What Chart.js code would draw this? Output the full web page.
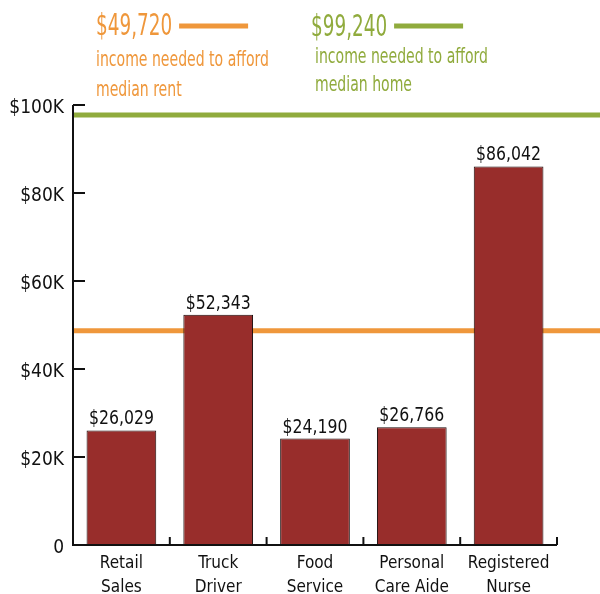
<!DOCTYPE html>
<html><head><meta charset="utf-8">
<script src="https://cdn.jsdelivr.net/npm/chart.js@4.4.1/dist/chart.umd.min.js"></script>
<style>html,body{margin:0;padding:0;background:#fff}#wrap{width:600px;height:594px;position:relative}</style>
</head><body><div id="wrap"><canvas id="c" width="600" height="594"></canvas></div>
<script>
const categories = [["Retail","Sales"],["Truck","Driver"],["Food","Service"],["Personal","Care Aide"],["Registered","Nurse"]];
const wages = [26029, 52343, 24190, 26766, 86042];
const yTicks = [0, 20000, 40000, 60000, 80000, 100000];
const thresholdNames = [["income needed to afford", "median rent"], ["income needed to afford", "median home"]];
const thresholdLabels = ["$49,720", "$99,240"];
const thresholdLevels = [48700, 97700];

const FONT = "'DejaVu Sans Condensed', 'DejaVu Sans', sans-serif";
const BAR = '#982d2b', ORANGE = '#ef973b', GREEN = '#90ab3d';

const fmt = v => '$' + v.toLocaleString('en-US');

function narrowText(ctx, txt, x, y, sx) {
  ctx.save(); ctx.translate(x, y); ctx.scale(sx, 1); ctx.fillText(txt, 0, 0); ctx.restore();
  return ctx.measureText(txt).width * sx;
}

const overlay = {
  id: 'overlay',
  beforeDatasetsDraw(chart) {
    const ctx = chart.ctx, y = chart.scales.y, a = chart.chartArea;
    ctx.save();
    [ORANGE, GREEN].forEach((col, i) => {
      const py = y.getPixelForValue(thresholdLevels[i]);
      ctx.strokeStyle = col; ctx.lineWidth = 5;
      ctx.beginPath(); ctx.moveTo(a.left, py); ctx.lineTo(chart.width, py); ctx.stroke();
    });
    ctx.restore();
  },
  afterDatasetsDraw(chart) {
    const ctx = chart.ctx, y = chart.scales.y, a = chart.chartArea;
    ctx.save();
    ctx.strokeStyle = '#111'; ctx.lineWidth = 2;
    ctx.beginPath(); ctx.moveTo(a.left, a.top); ctx.lineTo(a.left, a.bottom); ctx.lineTo(a.right, a.bottom); ctx.stroke();
    yTicks.forEach(v => {
      const py = y.getPixelForValue(v);
      ctx.beginPath(); ctx.moveTo(a.left, py); ctx.lineTo(a.left + 12, py); ctx.stroke();
    });
    const n = categories.length, step = (a.right - a.left) / n;
    for (let i = 1; i <= n; i++) {
      const px = a.left + step * i;
      ctx.beginPath(); ctx.moveTo(px, a.bottom); ctx.lineTo(px, a.bottom - 8); ctx.stroke();
    }
    const meta = chart.getDatasetMeta(0);
    ctx.fillStyle = '#111'; ctx.font = '19px ' + FONT; ctx.textAlign = 'left'; ctx.textBaseline = 'alphabetic';
    meta.data.forEach((bar, i) => {
      const t = fmt(wages[i]); const sx = 0.92;
      const w = ctx.measureText(t).width * sx;
      narrowText(ctx, t, bar.x - w / 2, bar.y - 6, sx);
    });
    const cols = [ORANGE, GREEN];
    const lx = [96, 311], numBase = [35, 36], l1Base = [66, 63], l2Base = [96, 91], txo = [0, 4];
    cols.forEach((col, i) => {
      ctx.fillStyle = col; ctx.textAlign = 'left';
      ctx.font = '31px ' + FONT;
      const w = narrowText(ctx, thresholdLabels[i], lx[i], numBase[i], 0.66);
      ctx.strokeStyle = col; ctx.lineWidth = 5;
      ctx.beginPath(); ctx.moveTo(lx[i] + w + 7, 26); ctx.lineTo(lx[i] + w + 76, 26); ctx.stroke();
      ctx.font = '22px ' + FONT;
      narrowText(ctx, thresholdNames[i][0], lx[i] + txo[i], l1Base[i], 0.71);
      narrowText(ctx, thresholdNames[i][1], lx[i] + txo[i], l2Base[i], 0.71);
    });
    ctx.restore();
  }
};

new Chart(document.getElementById('c'), {
  type: 'bar',
  data: {
    labels: categories,
    datasets: [{ data: wages, backgroundColor: BAR, borderColor: '#1a0a0a', borderWidth: 1,
      categoryPercentage: 1, barPercentage: 0.72 }]
  },
  options: {
    responsive: false, animation: false,
    layout: { padding: { top: 105, right: 43, left: 0, bottom: 0 } },
    plugins: { legend: { display: false }, tooltip: { enabled: false } },
    scales: {
      x: {
        grid: { display: false, drawTicks: false }, border: { display: false },
        ticks: { color: '#111', font: { family: FONT, size: 17, lineHeight: 1.4 }, padding: 7, maxRotation: 0, autoSkip: false },
        afterFit: s => { s.height = 49; }
      },
      y: {
        min: 0, max: 100000,
        afterBuildTicks: s => { s.ticks = yTicks.map(v => ({ value: v })); },
        grid: { display: false, drawTicks: false }, border: { display: false },
        ticks: { color: '#111', font: { family: FONT, size: 19 }, padding: 9, labelOffset: 3,
          callback: v => v === 0 ? '0' : '$' + (v / 1000) + 'K' },
        afterFit: s => { s.width = 73; }
      }
    }
  },
  plugins: [overlay]
});
</script></body></html>
